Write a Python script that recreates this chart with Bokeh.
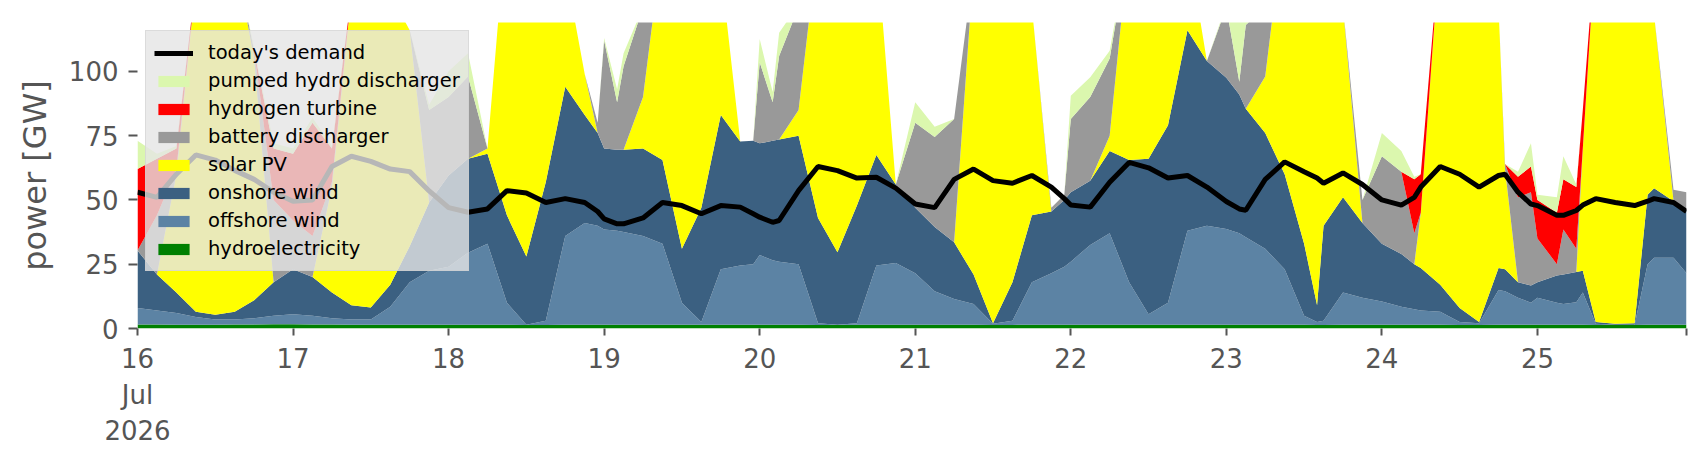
import pandas as pd
from bokeh.plotting import figure
from bokeh.models import (ColumnDataSource, Range1d, FixedTicker, CustomJSTickFormatter,
                          Legend, LegendItem)
from bokeh.embed import file_html
from bokeh.resources import INLINE

START = pd.Timestamp("2026-07-16 00:00")

# hour offsets from 16 Jul 2026 00:00
hours = [0, 3, 6, 9, 12, 15, 18, 21, 24, 27, 30, 33, 36, 39, 42, 45, 48, 51, 54, 57,
         60, 63, 66, 69, 71, 72, 74, 75, 78, 81, 84, 87, 90, 93, 95, 96, 98, 99, 102, 105,
         108, 111, 114, 117, 120, 123, 126, 129, 132, 135, 138, 141, 143, 144, 147, 150, 153, 156, 159, 162,
         165, 168, 170, 171, 174, 177, 180, 182, 183, 186, 189, 192, 195, 197, 198, 201, 204, 207, 210, 211,
         213, 215, 216, 219, 220, 222, 223, 225, 228, 231, 233, 234, 237, 239]

hydroelectricity = [1.6, 1.6, 1.5, 1.5, 1.5, 1.6, 1.6, 1.7, 1.7, 1.6, 1.6, 1.5, 1.5, 1.5, 1.5, 1.5, 1.5, 1.5, 1.5, 1.5,
                    1.4, 1.4, 1.5, 1.5, 1.5, 1.5, 1.5, 1.5, 1.5, 1.5, 1.5, 1.5, 1.5, 1.5, 1.5, 1.5, 1.5, 1.5, 1.5, 1.4,
                    1.4, 1.5, 1.5, 1.5, 1.5, 1.5, 1.5, 1.5, 1.4, 1.4, 1.5, 1.5, 1.5, 1.5, 1.5, 1.5, 1.5, 1.5, 1.5, 1.5,
                    1.5, 1.5, 1.5, 1.5, 1.5, 1.5, 1.5, 1.4, 1.4, 1.5, 1.5, 1.5, 1.5, 1.5, 1.5, 1.5, 1.4, 1.4, 1.5, 1.5,
                    1.5, 1.5, 1.5, 1.5, 1.5, 1.5, 1.5, 1.4, 1.4, 1.4, 1.5, 1.5, 1.5, 1.5]

offshore_wind = [6.4, 5.4, 4.5, 3.0, 2.0, 1.9, 2.4, 3.3, 3.8, 3.4, 2.4, 2.0, 2.0, 7.0, 16.5, 21.0, 22.5, 28.0, 31.5, 8.5,
                 0.1, 1.6, 34.5, 39.5, 38.5, 37.0, 36.5, 36.0, 34.5, 31.5, 8.5, 1.0, 21.5, 23.0, 23.5, 27.1, 25.0, 24.5, 23.5, 0.6,
                 0.1, 0.5, 23.0, 24.0, 20.0, 13.0, 10.0, 8.0, 0.4, 1.6, 16.5, 20.0, 22.5, 24.5, 31.0, 35.5, 16.5, 4.0, 8.5, 36.5,
                 38.5, 37.2, 35.5, 34.0, 29.5, 21.5, 3.5, 1.1, 1.6, 12.5, 10.5, 9.0, 7.0, 6.0, 5.5, 5.0, 1.1, 0.6, 13.5, 13.0,
                 10.5, 8.5, 10.5, 8.5, 8.0, 8.7, 12.5, 0.4, 0.1, 0.1, 23.5, 26.0, 26.0, 20.0]

onshore_wind = [22.3, 14.0, 8.0, 2.0, 1.8, 3.0, 7.0, 13.0, 17.5, 15.0, 10.0, 5.5, 4.7, 8.5, 14.0, 26.5, 35.5, 36.5, 35.0, 34.0,
                26.5, 54.0, 58.0, 42.0, 36.0, 31.5, 31.5, 32.0, 34.0, 32.5, 21.0, 44.5, 60.0, 48.2, 48.0, 43.4, 46.5, 47.5, 50.0, 41.0,
                28.2, 45.8, 43.0, 30.5, 25.5, 25.0, 22.0, 11.5, 0.2, 15.0, 26.0, 24.0, 26.0, 27.0, 25.0, 32.0, 47.5, 60.5, 69.0, 78.0,
                64.0, 58.8, 54.0, 50.0, 45.0, 37.0, 28.0, 6.5, 37.0, 37.0, 29.0, 22.5, 20.5, 17.5, 16.5, 10.5, 5.5, 0.5, 8.5, 8.5,
                6.0, 6.7, 6.0, 10.6, 11.5, 11.8, 8.5, 0.7, 0.3, 0.5, 27.0, 27.0, 22.0, 24.5]

solar_pv = [0.0, 0.0, 46.0, 128.5, 144.7, 138.5, 94.0, 0.0, 0.0, 0.0, 41.0, 121.0, 131.8, 113.0, 84.0, 0.0, 0.0, 0.0, 2.0, 116.0,
            122.0, 93.0, 46.0, 16.0, 0.0, 0.0, 0.0, 0.0, 20.0, 84.5, 119.0, 98.0, 57.0, 0.0, 0.0, 0.0, 0.0, 0.0, 10.0, 107.0,
            120.3, 102.2, 82.5, 0.0, 0.0, 0.0, 0.0, 119.0, 148.0, 132.0, 81.0, 0.0, 0.0, 0.0, 0.0, 6.0, 84.5, 84.0, 71.0, 34.0,
            0.0, 0.0, 0.0, 0.0, 22.0, 100.0, 127.0, 151.0, 120.0, 74.0, 0.0, 0.0, 0.0, 0.0, 21.5, 133.0, 142.0, 147.5, 101.5, 39.0,
            0.0, 0.0, 0.0, 0.0, 0.0, 0.0, 47.5, 147.5, 158.2, 148.0, 78.0, 67.5, 0.0, 0.0]

battery_discharger = [0.0, 23.0, 2.0, 0.0, 0.0, 0.0, 3.0, 32.0, 19.0, 16.0, 2.0, 0.0, 0.0, 0.0, 0.0, 36.0, 30.5, 32.0, 0.0, 0.0,
                      0.0, 0.0, 0.0, 0.0, 4.0, 42.0, 18.5, 32.5, 35.0, 0.0, 0.0, 0.0, 0.0, 0.0, 0.0, 31.5, 15.0, 32.5, 40.0, 0.0,
                      0.0, 0.0, 0.0, 0.0, 33.0, 35.0, 48.0, 0.0, 0.0, 0.0, 0.0, 1.5, 2.0, 28.5, 32.5, 30.0, 0.0, 0.0, 0.0, 0.0,
                      0.0, 27.5, 5.0, 32.5, 27.0, 0.0, 0.0, 0.0, 0.0, 0.0, 9.0, 34.0, 32.0, 12.0, 0.0, 0.0, 0.0, 0.0, 0.0, 2.0,
                      33.0, 36.3, 17.0, 4.4, 17.5, 9.0, 0.0, 0.0, 0.0, 0.0, 0.0, 0.0, 4.5, 7.0]

hydrogen_turbine = [31.7, 22.0, 8.0, 0.0, 0.0, 0.0, 0.0, 20.0, 26.0, 44.0, 13.0, 0.0, 0.0, 0.0, 0.0, 0.0, 0.0, 0.0, 0.0, 0.0,
                    0.0, 0.0, 0.0, 0.0, 0.0, 0.0, 0.0, 0.0, 0.0, 0.0, 0.0, 0.0, 0.0, 0.0, 0.0, 0.0, 0.0, 0.0, 0.0, 0.0,
                    0.0, 0.0, 0.0, 0.0, 0.0, 0.0, 0.0, 0.0, 0.0, 0.0, 0.0, 0.0, 0.0, 0.0, 0.0, 0.0, 0.0, 0.0, 0.0, 0.0,
                    0.0, 0.0, 0.0, 0.0, 0.0, 0.0, 0.0, 0.0, 0.0, 0.0, 0.0, 0.0, 0.0, 21.0, 15.0, 0.0, 0.0, 0.0, 0.0, 0.0,
                    8.0, 10.0, 15.0, 20.0, 19.5, 24.0, 15.0, 0.0, 0.0, 0.0, 0.0, 0.0, 0.0, 0.0]

pumped_hydro_discharger = [11.0, 2.0, 1.0, 0.0, 0.0, 0.0, 1.0, 2.0, 2.0, 2.0, 1.0, 0.0, 0.0, 0.0, 0.0, 2.0, 10.0, 9.0, 0.0, 0.0,
                           0.0, 0.0, 0.0, 0.0, 0.0, 1.0, 5.0, 5.0, 0.0, 0.0, 0.0, 0.0, 0.0, 0.0, 0.0, 9.1, 4.0, 9.0, 1.0, 0.0,
                           0.0, 0.0, 0.0, 0.0, 8.0, 4.0, 0.0, 0.0, 0.0, 0.0, 0.0, 0.0, 0.0, 9.0, 7.7, 3.0, 0.0, 0.0, 0.0, 0.0,
                           0.0, 1.0, 29.0, 7.0, 0.0, 0.0, 0.0, 0.0, 0.0, 0.0, 0.0, 9.0, 8.0, 1.0, 0.0, 0.0, 0.0, 0.0, 0.0, 0.0,
                           2.0, 9.0, 2.0, 6.0, 9.0, 1.0, 0.0, 0.0, 0.0, 0.0, 0.0, 0.0, 0.0, 0.0]

todays_demand = [53.0, 51.0, 60.0, 67.5, 65.5, 61.5, 58.0, 53.0, 49.5, 50.0, 63.0, 67.0, 65.0, 62.0, 61.0, 53.5, 47.0, 45.2, 46.5, 53.6,
                 52.7, 49.0, 50.5, 49.0, 45.5, 42.6, 40.7, 40.7, 43.0, 49.0, 47.8, 44.6, 47.8, 47.2, 44.6, 43.3, 41.3, 42.0, 53.6, 63.0,
                 61.4, 58.5, 58.8, 54.6, 48.4, 47.0, 58.0, 62.0, 57.5, 56.5, 59.5, 55.0, 50.5, 48.0, 47.2, 56.9, 64.6, 62.5, 58.5, 59.5,
                 55.0, 49.4, 46.5, 46.0, 58.0, 64.8, 61.0, 58.5, 56.5, 60.5, 56.0, 50.0, 48.0, 51.0, 55.0, 63.0, 60.0, 55.0, 59.5, 60.0,
                 53.0, 48.4, 47.8, 44.0, 44.0, 45.9, 48.0, 50.5, 49.0, 47.8, 49.5, 50.5, 49.0, 45.5]

y_ticks = [0, 25, 50, 75, 100]

series = [
    ("hydroelectricity", hydroelectricity, "#008000"),
    ("offshore wind", offshore_wind, "#5c83a4"),
    ("onshore wind", onshore_wind, "#3b6081"),
    ("solar PV", solar_pv, "#ffff00"),
    ("battery discharger", battery_discharger, "#999999"),
    ("hydrogen turbine", hydrogen_turbine, "#ff0000"),
    ("pumped hydro discharger", pumped_hydro_discharger, "#dbf7ae"),
]

t = START + pd.to_timedelta(hours, unit="h")
data = {"t": t, "demand": todays_demand}
keys = []
for i, (name, vals, col) in enumerate(series):
    k = f"s{i}"
    keys.append(k)
    data[k] = vals
source = ColumnDataSource(data)

t_end = t[-1]
p = figure(width=1698, height=448, x_axis_type="datetime",
           x_range=Range1d(START, t_end), y_range=Range1d(0, 119),
           output_backend="svg", toolbar_location=None,
           min_border_left=137, min_border_right=12, min_border_top=22, min_border_bottom=120)

areas = p.varea_stack(stackers=keys, x="t", color=[s[2] for s in series], source=source)
line = p.line(x="t", y="demand", source=source, line_color="black", line_width=5)

p.background_fill_color = "white"
p.border_fill_color = "white"
p.outline_line_color = None
p.xgrid.visible = False
p.ygrid.visible = False

day_ticks = [int((START + pd.Timedelta(days=d)).value // 10**6) for d in range(10)]
day_ticks.append(int(t_end.value // 10**6))
p.xaxis.ticker = FixedTicker(ticks=day_ticks)
p.xaxis.formatter = CustomJSTickFormatter(code="""
const d = new Date(tick);
if (d.getUTCHours() != 0) { return ""; }
const day = d.getUTCDate();
if (day == 16) { return "16\\nJul\\n2026"; }
return String(day);
""")
p.yaxis.ticker = FixedTicker(ticks=y_ticks)
p.yaxis.axis_label = "power [GW]"

for ax in (p.xaxis[0], p.yaxis[0]):
    ax.axis_line_color = None
    ax.major_tick_line_color = "#555555"
    ax.major_tick_line_width = 2
    ax.minor_tick_line_color = None
    ax.major_tick_in = 0
    ax.major_label_text_font = "DejaVu Sans"
    ax.major_label_text_font_size = "26px"
    ax.major_label_text_color = "#555555"
    ax.axis_label_text_font = "DejaVu Sans"
    ax.axis_label_text_font_size = "32px"
    ax.axis_label_text_font_style = "normal"
    ax.axis_label_text_color = "#555555"

p.yaxis.major_tick_out = 9
p.yaxis.major_label_standoff = 10
p.yaxis.axis_label_standoff = 12
p.xaxis.major_tick_out = 7
p.xaxis.major_label_standoff = 8

order = [6, 5, 4, 3, 2, 1, 0]
items = [LegendItem(label="today's demand", renderers=[line])]
for i in order:
    items.append(LegendItem(label=series[i][0], renderers=[areas[i]]))

legend = Legend(items=items, location="top_left", margin=8, padding=8, spacing=1,
                label_height=27, glyph_height=14, glyph_width=39, label_standoff=15,
                label_text_font="DejaVu Sans", label_text_font_size="19.5px",
                label_text_color="black",
                background_fill_color="#e5e5e5", background_fill_alpha=0.8,
                border_line_color="#cccccc", border_line_width=1.5)
p.add_layout(legend)

open("out.html", "w").write(file_html(p, INLINE))
